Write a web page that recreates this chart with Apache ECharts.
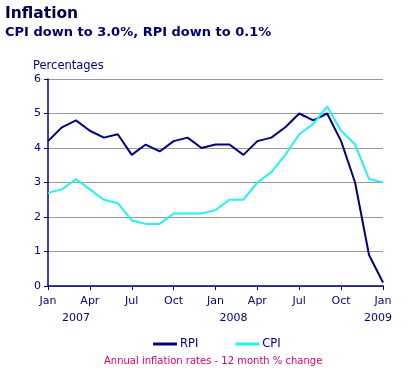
<!DOCTYPE html>
<html><head><meta charset="utf-8">
<script src="https://cdn.jsdelivr.net/npm/echarts@6/dist/echarts.min.js"></script>
<style>html,body{margin:0;padding:0;background:#fff}#c{width:419px;height:372px}</style>
</head><body><div id="c"></div>
<script>
var months = ['Jan','Feb','Mar','Apr','May','Jun','Jul','Aug','Sep','Oct','Nov','Dec',
  'Jan','Feb','Mar','Apr','May','Jun','Jul','Aug','Sep','Oct','Nov','Dec','Jan'];
var yearLabels = {2:'{a|2007}', 13:'{b|2008}', 24:'{c|2009}'};
var rpi = [4.2,4.6,4.8,4.5,4.3,4.4,3.8,4.1,3.9,4.2,4.3,4.0,4.1,4.1,3.8,4.2,4.3,4.6,5.0,4.8,5.0,4.2,3.0,0.9,0.1];
var cpi = [2.7,2.8,3.1,2.8,2.5,2.4,1.9,1.8,1.8,2.1,2.1,2.1,2.2,2.5,2.5,3.0,3.3,3.8,4.4,4.7,5.2,4.5,4.1,3.1,3.0];
var yTicks = [0,1,2,3,4,5,6];

var navy = '#000080';
var font = 'DejaVu Sans, Verdana, sans-serif';
var yr = {color: navy, fontSize: 11, fontFamily: font};
var chart = echarts.init(document.getElementById('c'));
chart.setOption({
  animation: false,
  textStyle: {fontFamily: font},
  title: [
    {text: 'Inflation', left: 5, top: 6, padding: 0, textStyle: {fontSize: 15.5, fontWeight: 'bold', color: '#00004d', fontFamily: font}},
    {text: 'CPI down to 3.0%, RPI down to 0.1%', left: 5, top: 26, padding: 0, textStyle: {fontSize: 13, fontWeight: 'bold', color: '#00006b', fontFamily: font}},
    {text: 'Percentages', left: 33, top: 60, padding: 0, textStyle: {fontSize: 11.5, fontWeight: 'normal', color: navy, fontFamily: font}},
    {text: 'Annual inflation rates - 12 month % change', left: 104, top: 356, padding: 0, textStyle: {fontSize: 10, fontWeight: 'normal', color: '#d4006a', fontFamily: font}}
  ],
  legend: {
    top: 333, left: 148, itemWidth: 24, itemHeight: 3, itemGap: 37,
    icon: 'rect',
    textStyle: {fontSize: 11.5, color: navy, fontFamily: font, padding: [0,0,0,-2]},
    data: ['RPI','CPI']
  },
  grid: {left: 48, right: 36, top: 79, bottom: 86},
  xAxis: [{
    type: 'category', data: months, boundaryGap: false,
    axisLine: {lineStyle: {color: navy, width: 1.5}},
    axisTick: {interval: 2, length: 4, lineStyle: {color: navy}},
    axisLabel: {interval: 2, color: navy, fontSize: 11, margin: 10, fontFamily: font},
    splitLine: {show: false}
  }, {
    type: 'category', data: months, boundaryGap: false, position: 'bottom',
    axisLine: {show: false}, axisTick: {show: false},
    axisLabel: {interval: 0, color: navy, fontSize: 11, margin: 27, fontFamily: font,
      formatter: function (v, i) { return yearLabels[i] || ''; },
      rich: {
        a: yr,
        b: Object.assign({padding: [0, 0, 0, 8]}, yr),
        c: Object.assign({padding: [0, 10, 0, 0]}, yr)
      }}
  }],
  yAxis: {
    type: 'value', min: yTicks[0], max: yTicks[yTicks.length-1], interval: 1,
    axisLine: {show: true, lineStyle: {color: navy, width: 1.5}},
    axisTick: {show: true, length: 4, lineStyle: {color: navy}},
    axisLabel: {color: navy, fontSize: 11, margin: 7, fontFamily: font},
    splitLine: {lineStyle: {color: '#999999', width: 1}}
  },
  series: [
    {name: 'RPI', type: 'line', data: rpi, symbol: 'none', lineStyle: {color: navy, width: 2}, itemStyle: {color: navy}},
    {name: 'CPI', type: 'line', data: cpi, symbol: 'none', lineStyle: {color: '#22f2f2', width: 2}, itemStyle: {color: '#22f2f2'}}
  ]
});
</script></body></html>
